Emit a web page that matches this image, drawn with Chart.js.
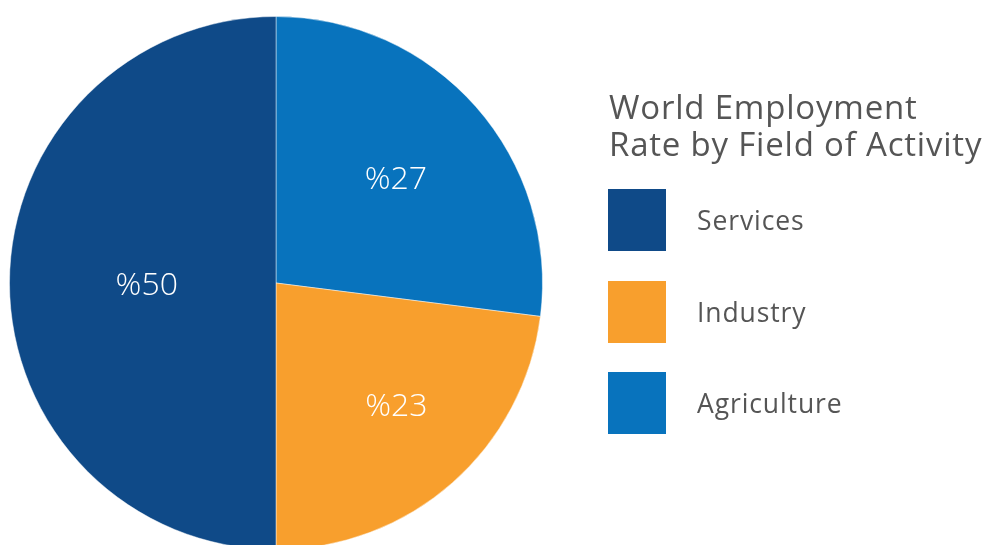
<!DOCTYPE html>
<html>
<head>
<meta charset="utf-8">
<script src="https://cdn.jsdelivr.net/npm/chart.js@4"></script>
<style>
    html, body { margin: 0; padding: 0; background: #fff; overflow: hidden; width: 992px; height: 545px; }
    #wrap { position: absolute; left: 0; top: 0; width: 992px; height: 560px; }
    #legend { position: absolute; left: 608px; top: 88px; font-family: "Open Sans", sans-serif; color: #555; }
    #legend h2 { margin: 0 0 0 1px; font-weight: 400; font-size: 33px; line-height: 37px; letter-spacing: 0.8px; white-space: nowrap; }
    .item { position: absolute; left: 0; width: 300px; height: 62px; }
    .item .box { position: absolute; left: 0; top: 0; width: 58px; height: 62px; }
    .item .txt { position: absolute; left: 89px; top: 0; line-height: 62px; font-size: 26.5px; letter-spacing: 0.9px; }
</style>
</head>
<body>
<div id="wrap"><canvas id="pieChart" width="992" height="560"></canvas></div>
<div id="legend"></div>
<script>
    // Share of world employment, clockwise from 12 o'clock
    const categories = ['Agriculture', 'Industry', 'Services'];
    const shares = [27, 23, 50];
    const sliceColors = ['#0873bd', '#f89f2d', '#0f4a88'];
    const chartTitle = ['World Employment', 'Rate by Field of Activity'];

    // label placement inside each slice: distance (fraction of radius) and nudge (degrees)
    const labelRadius = [0.6, 0.64, 0.485];
    const labelNudge = [0, -3.5, 0];

    // "%27" style labels inside the slices
    const sliceLabels = {
        id: 'sliceLabels',
        afterDatasetsDraw(chart) {
            const ctx = chart.ctx;
            const meta = chart.getDatasetMeta(0);
            ctx.save();
            ctx.fillStyle = '#fff';
            ctx.font = '300 32px "Open Sans", sans-serif';
            ctx.textAlign = 'center';
            ctx.textBaseline = 'middle';
            meta.data.forEach((arc, i) => {
                const mid = (arc.startAngle + arc.endAngle) / 2 + labelNudge[i] * Math.PI / 180;
                const r = arc.outerRadius * labelRadius[i];
                ctx.fillText('%' + shares[i], arc.x + Math.cos(mid) * r, arc.y + Math.sin(mid) * r + 3);
            });
            ctx.restore();
        }
    };

    const ctx = document.getElementById('pieChart').getContext('2d');
    const chart = new Chart(ctx, {
        type: 'pie',
        data: {
            labels: categories,
            datasets: [{
                data: shares,
                backgroundColor: sliceColors,
                borderColor: 'rgba(255,255,255,0.45)',
                borderWidth: 1
            }]
        },
        options: {
            responsive: false,
            animation: false,
            layout: { padding: { left: 9, top: 16, right: 449, bottom: 10 } },
            plugins: {
                legend: { display: false },
                tooltip: { enabled: false }
            }
        },
        plugins: [sliceLabels]
    });

    // Legend on the right, listed Services first
    function buildLegend() {
        const $legend = document.getElementById('legend');
        $legend.innerHTML = '<h2>' + chartTitle.join('<br>') + '</h2>';
        const order = categories.map((c, i) => i).reverse();
        order.forEach((idx, n) => {
            const item = document.createElement('div');
            item.className = 'item';
            item.style.top = (101 + n * 91.5) + 'px';
            item.innerHTML = `<div class="box" style="background:${sliceColors[idx]}"></div>
                              <div class="txt">${categories[idx]}</div>`;
            $legend.appendChild(item);
        });
    }

    buildLegend();
</script>
</body>
</html>
